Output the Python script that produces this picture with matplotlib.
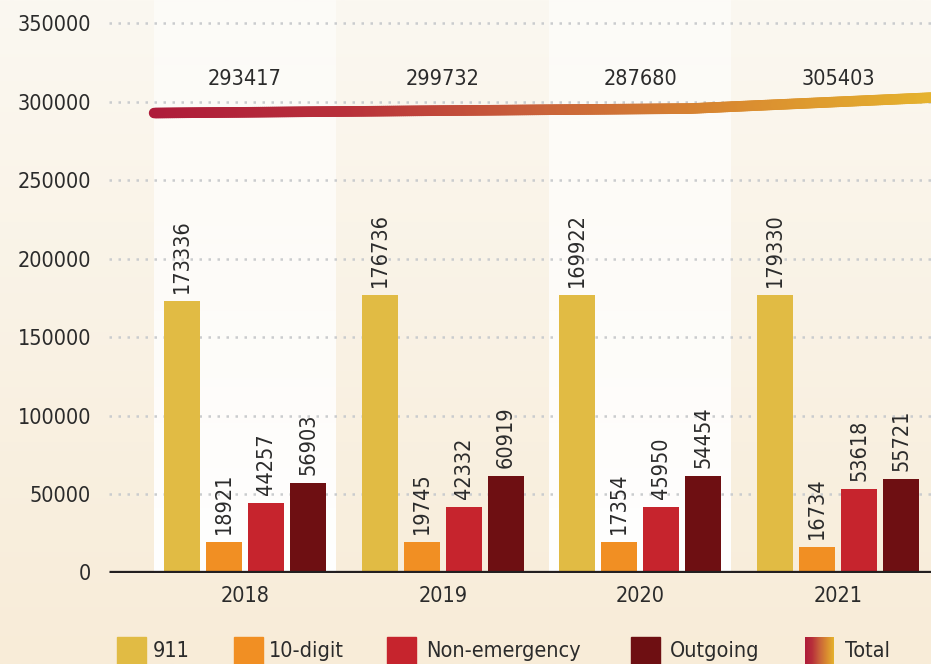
import numpy as np
import matplotlib
matplotlib.use("Agg")
from matplotlib import pyplot as plt
from matplotlib import font_manager
from matplotlib.collections import LineCollection
from matplotlib.colors import LinearSegmentedColormap, to_rgb
from matplotlib.patches import Rectangle

# data
years = ['2018', '2019', '2020', '2021']
series = ['911', '10-digit', 'Non-emergency', 'Outgoing']
# printed labels
lab_911 = [173336, 176736, 169922, 179330]
lab_10digit = [18921, 19745, 17354, 16734]
lab_nonemerg = [44257, 42332, 45950, 53618]
lab_outgoing = [56903, 60919, 54454, 55721]
lab_total = [293417, 299732, 287680, 305403]
# bar heights as drawn (they don't always match the labels)
h_911 = [173000, 176700, 176700, 176700]
h_10digit = [19300, 19400, 19600, 16300]
h_nonemerg = [44300, 41700, 41700, 53200]
h_outgoing = [57000, 61400, 61400, 59500]
# the "Total" ribbon as drawn (x in group units)
total_line_x = [-0.46, 2.25, 3.6]
total_line_y = [292650, 295500, 303200]

colors = ['#E1BB44', '#F18F23', '#C6242D', '#6E0F12']
text_col = '#2B2B2B'
ribbon_cmap = LinearSegmentedColormap.from_list(
    'ribbon', ['#AE1C3A', '#B8303A', '#C9623A', '#D98A30', '#E5B22E'])

# pick a narrow font if we have one
names = {f.name for f in font_manager.fontManager.ttflist}
if 'Liberation Sans Narrow' in names:
    plt.rcParams['font.family'] = ['Liberation Sans Narrow', 'DejaVu Sans']
    FS = 17
else:
    plt.rcParams['font.family'] = ['DejaVu Sans']
    plt.rcParams['font.stretch'] = 'condensed'
    FS = 15.5

W, H = 931, 664
fig = plt.figure(figsize=(W / 100, H / 100), dpi=100)

# background gradient
bg = fig.add_axes([0, 0, 1, 1])
top, bot = np.array(to_rgb('#FBF8F1')), np.array(to_rgb('#F8ECD8'))
t = np.linspace(0, 1, 256)[:, None, None]
bg.imshow(top + (bot - top) * t, aspect='auto', extent=[0, 1, 0, 1])
bg.axis('off')
bg.set_zorder(0)

ax = fig.add_axes([109 / W, 91.5 / H, 1 - 109 / W, 572.5 / H])
ax.set_zorder(1)
ax.patch.set_alpha(0)
ymax = 364650

x = np.arange(len(years))

# white bands behind every other year
alpha = np.linspace(0.5, 1.0, 256)[:, None]
band = np.ones((256, 1, 4))
band[:, :, 3] = alpha
for i in x[::2]:
    ax.imshow(band, aspect='auto', extent=[i - 0.46, i + 0.46, 0, ymax],
              zorder=0.5)
ax.set_xlim(-0.688, 3.47)
ax.set_ylim(0, ymax)

step, bw = 0.2125, 0.182
heights = [h_911, h_10digit, h_nonemerg, h_outgoing]
labels = [lab_911, lab_10digit, lab_nonemerg, lab_outgoing]
for k in range(4):
    pos = x + (k - 1.5) * step
    ax.bar(pos, heights[k], width=bw, color=colors[k], zorder=2)
    for px, h, lab in zip(pos, heights[k], labels[k]):
        ax.text(px, h + 5200, str(lab), rotation=90, ha='center', va='bottom',
                fontsize=FS, color=text_col, zorder=5)

# total ribbon
lx = np.linspace(total_line_x[0], total_line_x[-1], 400)
ly = np.interp(lx, total_line_x, total_line_y)
pts = np.column_stack([lx, ly]).reshape(-1, 1, 2)
segs = np.concatenate([pts[:-1], pts[1:]], axis=1)
lc = LineCollection(segs, cmap=ribbon_cmap, linewidths=7.6, capstyle='round',
                    zorder=3)
lc.set_array(np.linspace(0, 1, len(segs)) * (total_line_x[-1] + 0.46) / (3.47 + 0.46))
lc.set_clim(0, 1)
ax.add_collection(lc)
for i, v in enumerate(lab_total):
    ax.text(i, 314500, str(v), ha='center', va='center', fontsize=FS,
            color=text_col, zorder=5)

# baseline
ax.axhline(0, color='#231F20', lw=3.8, zorder=4, solid_capstyle='butt')

ax.set_yticks(np.arange(0, 350001, 50000))
ax.set_yticklabels([str(v) for v in range(0, 350001, 50000)])
ax.yaxis.grid(True, color='#CACCCE', lw=1.8, linestyle=(0, (1, 2.6)), zorder=1)
ax.set_axisbelow(True)
ax.set_xticks(x)
ax.set_xticklabels(years)
ax.tick_params(axis='both', length=0, labelsize=FS, labelcolor=text_col)
ax.tick_params(axis='y', pad=13)
ax.tick_params(axis='x', pad=10)
for s in ax.spines.values():
    s.set_visible(False)

# legend along the bottom
sq_x = [117, 234, 387, 631, 805]
txt_x = [153, 269, 426, 670, 845]
for k in range(4):
    fig.add_artist(Rectangle((sq_x[k] / W, 0), 29 / W, 27 / H,
                             transform=fig.transFigure, color=colors[k]))
    fig.text(txt_x[k] / W, 1 - 651 / H, series[k], fontsize=FS, color=text_col,
             va='center', ha='left')
lg = fig.add_axes([sq_x[4] / W, 0, 29 / W, 27 / H])
lg.imshow(np.linspace(0, 1, 64)[None, :], cmap=ribbon_cmap, aspect='auto')
lg.axis('off')
fig.text(txt_x[4] / W, 1 - 651 / H, 'Total', fontsize=FS, color=text_col,
         va='center', ha='left')

plt.savefig('out.png', dpi=100)
